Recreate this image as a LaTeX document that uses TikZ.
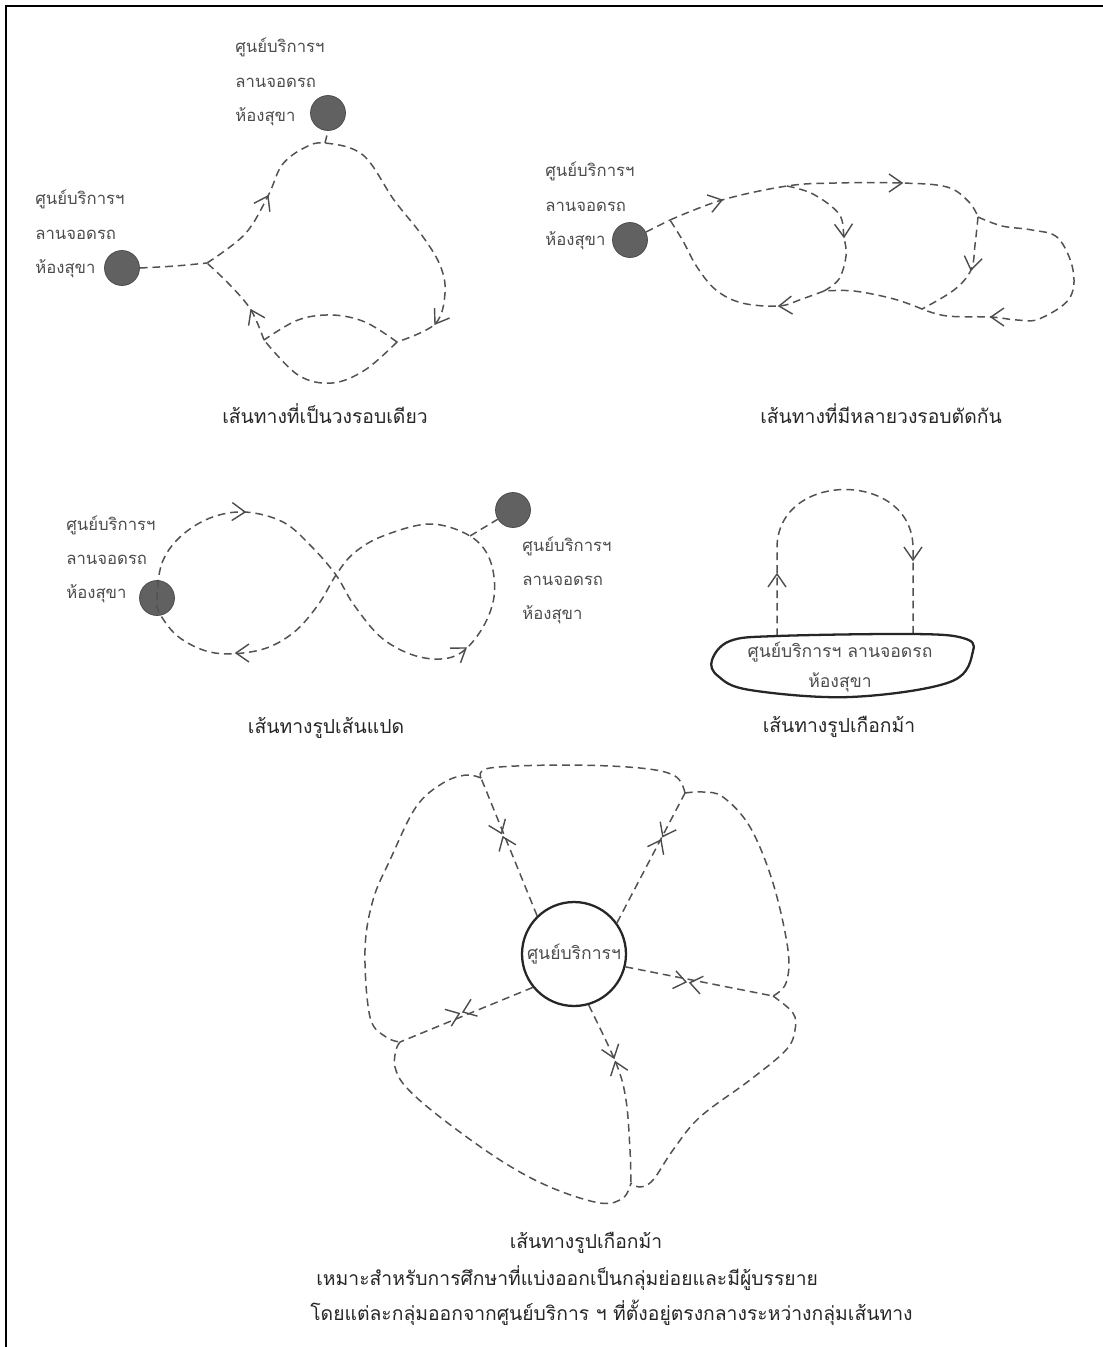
\documentclass[tikz,border=0pt]{standalone}
\usepackage{fontspec}
\newfontfamily\thaifont[Script=Thai]{Loma}
\usepackage{tikz}
\usetikzlibrary{arrows.meta,calc,positioning}

\begin{document}
\begin{tikzpicture}[x=0.02cm,y=-0.02cm,
  font=\thaifont\fontsize{11}{19.6}\selectfont,
  route/.style={draw=black!68,line width=0.85pt,dash pattern=on 4.4pt off 2.8pt},
  stop/.style={circle,draw=black!72,fill=black!62,minimum size=0.7cm,inner sep=0pt},
  hub/.style={draw=black!85,line width=1.3pt},
  lbl/.style={text=black!70,align=left,anchor=north west,inner sep=0pt,font=\thaifont\fontsize{9.5}{19.6}\selectfont},
  ttl/.style={text=black!85,inner sep=0pt},
  chev/.pic={\draw[solid,draw=black!70,line width=0.8pt] (-13,-9) -- (0,0) -- (-13,9);},
  xmark/.pic={\draw[solid,draw=black!70,line width=0.8pt] (-12,-9) -- (0,0) -- (-12,9) (16,-9) -- (4,0) -- (16,9);}]
\useasboundingbox (0,0) rectangle (1103,1347);
\draw[line width=1.1pt] (6,1347) -- (6,6) -- (1103,6);

\node[stop] (s1) at (328,113) {};
\node[stop] (s2) at (122,268) {};
\node[lbl] (t1) at (235,38) {ศูนย์บริการฯ\\ลานจอดรถ\\ห้องสุขา};
\node[lbl] (t2) at (35,190) {ศูนย์บริการฯ\\ลานจอดรถ\\ห้องสุขา};
\coordinate (j1) at (207,263);
\coordinate (k1) at (397,342);
\coordinate (l1) at (264,340);
\coordinate (top1) at (325,143);
\draw[route] plot[smooth,tension=0.6] coordinates {(s2.east) (175,266) (j1)};
\draw[route] plot[smooth,tension=0.6] coordinates {(j1) (245,234) (268,196) (282,165) (304,148) (top1) (363,155) (394,200) (421,234) (440,265) (445,293) (435,324) (k1)};
\draw[route] plot[smooth,tension=0.6] coordinates {(k1) (365,322) (332,315) (298,320) (l1)};
\draw[route] plot[smooth,tension=0.6] coordinates {(k1) (365,370) (332,383) (298,375) (l1)};
\draw[route] plot[smooth,tension=0.6] coordinates {(l1) (251,310) (230,285) (j1)};
\draw[route] (top1) -- (s1.south);
\pic[rotate=62] at (268,196) {chev};
\pic[rotate=237] at (435,324) {chev};
\pic[rotate=116] at (251,310) {chev};
\node[ttl] (c1) at (325,414) {เส้นทางที่เป็นวงรอบเดียว};

\node[stop] (s3) at (630,240) {};
\node[lbl] (t3) at (545,162) {ศูนย์บริการฯ\\ลานจอดรถ\\ห้องสุขา};
\coordinate (a2) at (670,220);
\coordinate (b2) at (787,186);
\coordinate (j2) at (978,217);
\coordinate (m2) at (922,309);
\coordinate (n2) at (824,291);
\draw[route] (s3) -- (a2);
\draw[route] plot[smooth,tension=0.6] coordinates {(a2) (722,200) (b2) (835,183) (902,183) (947,187) (969,202) (j2)};
\draw[route] plot[smooth,tension=0.6] coordinates {(b2) (813,194) (839,214) (844,237) (846,256) (839,279) (n2)};
\draw[route] plot[smooth,tension=0.6] coordinates {(j2) (1002,226) (1032,230) (1058,238) (1073,270) (1069,299) (1039,319) (1017,320) (991,317) (947,316) (m2)};
\draw[route] plot[smooth,tension=0.6] coordinates {(j2) (975,245) (971,270) (954,290) (m2)};
\draw[route] plot[smooth,tension=0.6] coordinates {(m2) (894,299) (854,291) (n2)};
\draw[route] plot[smooth,tension=0.6] coordinates {(n2) (802,299) (779,306) (742,303) (716,290) (697,267) (683,241) (a2)};
\pic[rotate=16] at (722,200) {chev};
\pic[rotate=0] at (902,183) {chev};
\pic[rotate=-88] at (844,237) {chev};
\pic[rotate=-100] at (971,270) {chev};
\pic[rotate=180] at (991,317) {chev};
\pic[rotate=184] at (779,306) {chev};
\node[ttl] (c2) at (881,414) {เส้นทางที่มีหลายวงรอบตัดกัน};

\node[stop] (s5) at (157,598) {};
\node[stop] (s6) at (513,510) {};
\node[lbl] (t5) at (66,515) {ศูนย์บริการฯ\\ลานจอดรถ\\ห้องสุขา};
\node[lbl] (t6) at (522,536) {ศูนย์บริการฯ\\ลานจอดรถ\\ห้องสุขา};
\coordinate (q3) at (470,536);
\draw[route] plot[smooth cycle,tension=0.6] coordinates {(157,598) (162,563) (180,537) (210,518) (245,512) (283,522) (311,546) (336,575) (354,605) (383,639) (420,657) (455,656) (480,632) (494,597) (490,560) (q3) (430,524) (383,536) (354,553) (336,575) (318,605) (293,633) (260,650) (215,653) (180,638) (160,614)};
\draw[route] (q3) -- (s6);
\pic[rotate=-2] at (245,512) {chev};
\pic[rotate=35] at (466,648) {chev};
\pic[rotate=180] at (236,653) {chev};
\node[ttl] (c3) at (326,728) {เส้นทางรูปเส้นแปด};

\coordinate (p1) at (777,636);
\coordinate (p2) at (913,636);
\draw[route] (p1) -- (777,548) .. controls (777,470) and (913,470) .. (913,548) -- (p2);
\pic[rotate=90] at (777,574) {chev};
\pic[rotate=-90] at (913,560) {chev};
\draw[hub,fill=white] plot[smooth cycle,tension=0.6] coordinates {(712,660) (730,641) (777,636) (913,634) (963,638) (973,651) (950,682) (850,697) (750,690) (718,676)};
\node[text=black!70,align=center,inner sep=0pt,font=\thaifont\fontsize{10}{17.5}\selectfont] (t7) at (840,667) {ศูนย์บริการฯ ลานจอดรถ\\ห้องสุขา};
\node[ttl] (c4) at (839,727) {เส้นทางรูปเกือกม้า};

\node[circle,hub,minimum size=2.08cm,inner sep=0pt,text=black!70,font=\thaifont\fontsize{10}{12}\selectfont] (hub5) at (574,954) {ศูนย์บริการฯ};
\coordinate (o1) at (481,778);
\coordinate (o2) at (685,793);
\coordinate (o3) at (773,996);
\coordinate (o4) at (631,1183);
\coordinate (o5) at (400,1042);
\draw[route] (hub5.134) -- (o1);
\draw[route] (hub5.36) -- (o2);
\draw[route] (hub5.-14) -- (o3);
\draw[route] plot[smooth,tension=0.6] coordinates {(hub5.-74) (616,1063) (626,1100) (630,1150) (o4)};
\draw[route] (hub5.219) -- (o5);
\pic[rotate=112] at (503,837) {xmark};
\pic[rotate=63] at (661,840) {xmark};
\pic[rotate=-11] at (686,982) {xmark};
\pic[rotate=-71] at (614,1058) {xmark};
\pic[rotate=201] at (463,1012) {xmark};
\draw[route] plot[smooth,tension=0.6] coordinates {(o1) (490,768) (566,765) (640,768) (675,776) (o2)};
\draw[route] plot[smooth,tension=0.6] coordinates {(o1) (466,775) (443,783) (416,807) (390,860) (373,900) (365,950) (370,1017) (386,1037) (o5)};
\draw[route] plot[smooth,tension=0.6] coordinates {(o2) (703,792) (723,797) (750,827) (773,883) (788,950) (786,983) (o3)};
\draw[route] plot[smooth,tension=0.6] coordinates {(o3) (793,1013) (795,1030) (786,1050) (750,1080) (700,1117) (673,1150) (653,1180) (640,1187) (o4)};
\draw[route] plot[smooth,tension=0.6] coordinates {(o5) (396,1050) (395,1067) (406,1087) (440,1117) (500,1160) (550,1187) (600,1203) (623,1198) (o4)};
\node[ttl] (c5a) at (586,1243) {เส้นทางรูปเกือกม้า};
\node[ttl,anchor=west] (c5b) at (316,1278) {เหมาะสำหรับการศึกษาที่แบ่งออกเป็นกลุ่มย่อยและมีผู้บรรยาย};
\node[ttl,anchor=west] (c5c) at (310,1313) {โดยแต่ละกลุ่มออกจากศูนย์บริการ ฯ ที่ตั้งอยู่ตรงกลางระหว่างกลุ่มเส้นทาง};
\end{tikzpicture}
\end{document}
